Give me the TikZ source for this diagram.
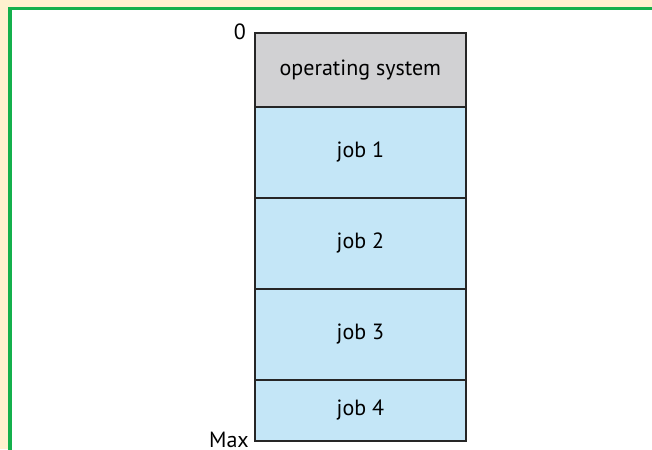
\documentclass[tikz,border=0pt]{standalone}
\usepackage{fontspec}
\setmainfont{PT Sans}
\definecolor{cream}{HTML}{FFF1CF}
\definecolor{frame}{HTML}{14B04C}
\definecolor{osgrey}{HTML}{D1D1D3}
\definecolor{jobblue}{HTML}{C4E6F7}
\tikzset{
  mem/.style={draw=black!85, line width=1.7pt, minimum width=211pt, inner sep=0pt, anchor=north west, font=\fontsize{22}{24}\selectfont},
  osbox/.style={mem, fill=osgrey},
  jobbox/.style={mem, fill=jobblue},
  addr/.style={font=\fontsize{22}{24}\selectfont, inner sep=0pt}
}
\begin{document}
\begin{tikzpicture}[x=1pt,y=-1pt]
\useasboundingbox (0,0) rectangle (652,449);
\begin{scope}
\clip (0,0) rectangle (652,449);
\fill[cream] (0,0) rectangle (652,449);
\fill[white] (10,8.5) rectangle (700,500);
\draw[frame, line width=3.5pt] (10,500) -- (10,8.5) -- (700,8.5);
\end{scope}
\node[osbox, minimum height=74pt] (os) at (254,32) {operating system};
\node[jobbox, minimum height=91pt] (j1) at (254,106) {job 1};
\node[jobbox, minimum height=91pt] (j2) at (254,197) {job 2};
\node[jobbox, minimum height=91pt] (j3) at (254,288) {job 3};
\node[jobbox, minimum height=61pt] (j4) at (254,379) {job 4};
\node[addr, anchor=east] (zero) at ([xshift=-8pt,yshift=0.5pt]os.north west) {0};
\node[addr, anchor=east] (max) at ([xshift=-5pt,yshift=2pt]j4.south west) {Max};
\end{tikzpicture}
\end{document}
